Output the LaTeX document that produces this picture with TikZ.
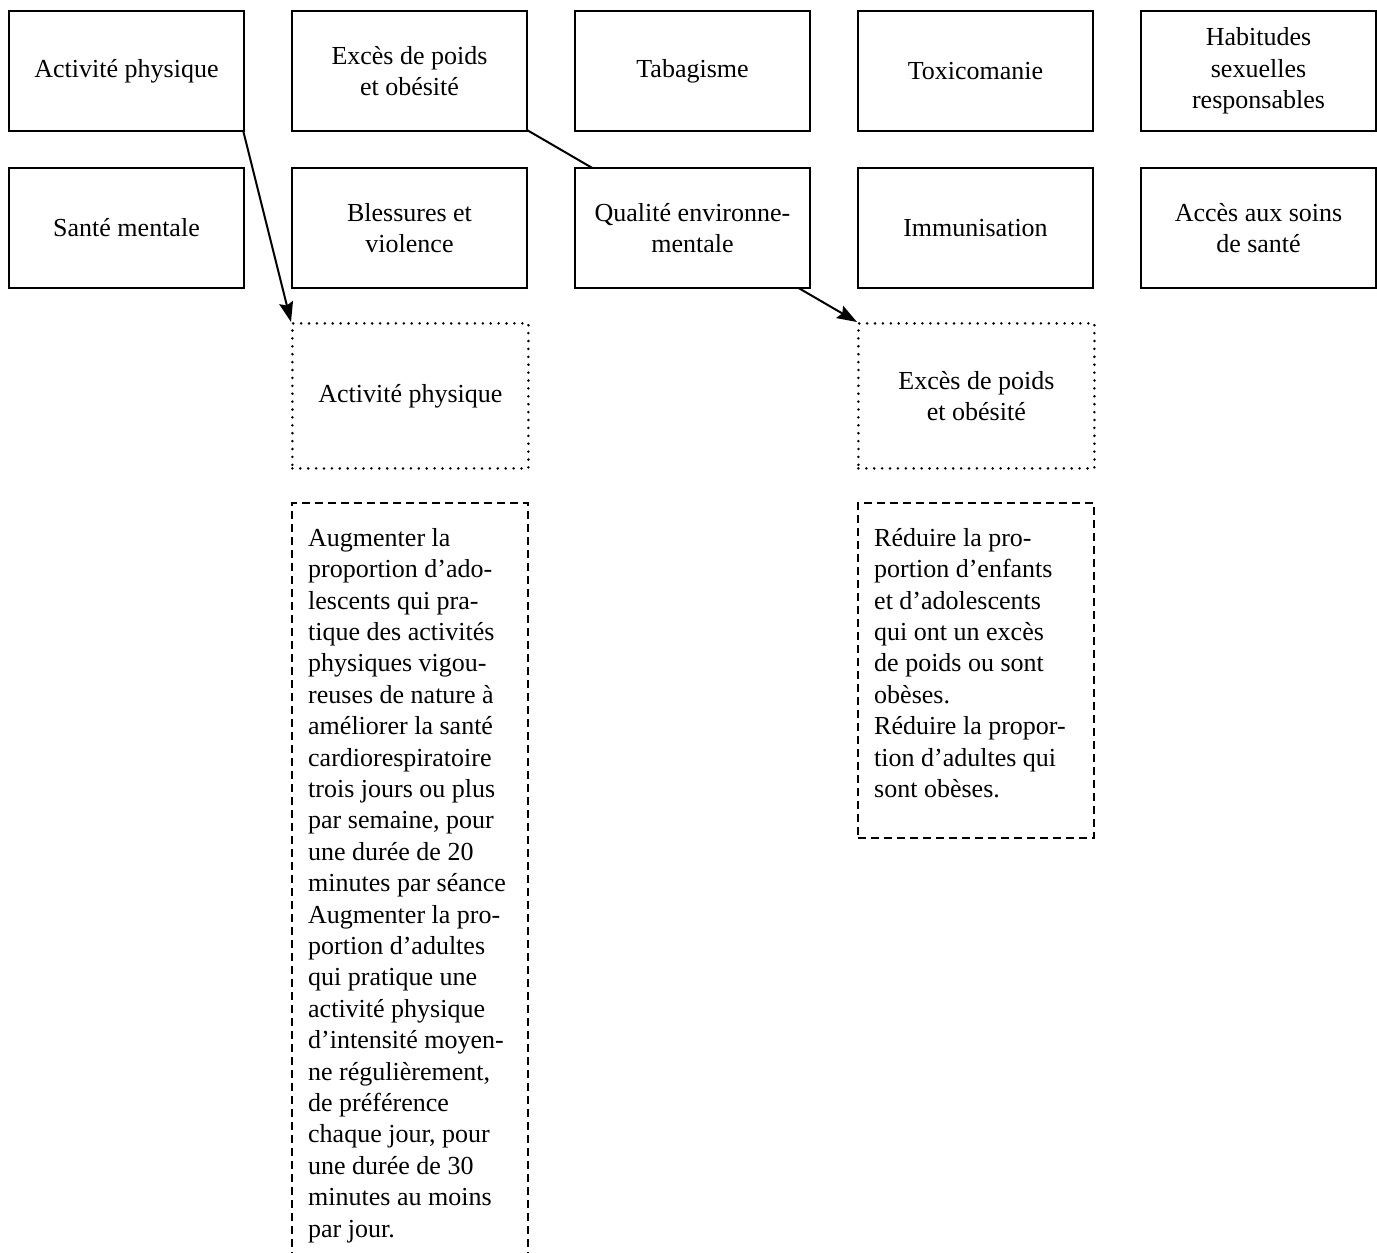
\documentclass[tikz,border=0pt]{standalone}
\usepackage{fontspec}
\setmainfont{Liberation Serif}
\usetikzlibrary{arrows.meta}
\begin{document}
\begin{tikzpicture}[x=1pt,y=-1pt,
  every node/.style={font={\fontsize{26}{31.4}\selectfont}},
  solidbox/.style={draw, line width=2pt, fill=white, minimum width=235pt, minimum height=120pt, inner sep=0pt, align=center, anchor=north west},
  dotbox/.style={draw, line width=2.8pt, line cap=round, dash pattern=on 0pt off 7.9pt, fill=white, minimum width=236pt, minimum height=145pt, inner sep=0pt, align=center, anchor=north west},
  dashbox/.style={draw, line width=2pt, dash pattern=on 8pt off 5pt, minimum width=236pt, inner sep=0pt, anchor=north west},
  objtext/.style={anchor=north west, align=left, inner sep=0pt},
  link/.style={line width=2pt, -{Stealth[length=20pt,width=14pt,inset=3pt]}}
]
\useasboundingbox (0,0) rectangle (1377,1253);
\clip (0,0) rectangle (1377,1253);
% coordinates of connector ends
\coordinate (c1s) at (243,130);
\coordinate (c1e) at (291,322);
\coordinate (c2s) at (527,130);
\coordinate (c2e) at (857,322);
\draw[link] (c1s) -- (c1e);
\draw[link] (c2s) -- (c2e);
% top row
\node[solidbox] (ap) at (8,10) {Activité physique};
\node[solidbox] (ep) at (291,10) {Excès de poids\\et obésité};
\node[solidbox] (tab) at (574,10) {Tabagisme};
\node[solidbox] (tox) at (857,10) {Toxicomanie};
\node[solidbox] (hab) at (1140,10) {Habitudes\\sexuelles\\responsables};
% second row
\node[solidbox] (sm) at (8,167) {Santé mentale};
\node[solidbox] (bv) at (291,167) {Blessures et\\violence};
\node[solidbox] (qe) at (574,167) {Qualité environne-\\mentale};
\node[solidbox] (imm) at (857,167) {Immunisation};
\node[solidbox] (acc) at (1140,167) {Accès aux soins\\de santé};
% dotted boxes
\node[dotbox] (dap) at (291,322) {Activité physique};
\node[dotbox] (dep) at (857,322) {Excès de poids\\et obésité};
% dashed boxes
\node[dashbox, minimum height=820pt] (oap) at (291,502) {};
\node[dashbox, minimum height=335pt] (oep) at (857,502) {};
\node[objtext] (tap) at (308,528) {Augmenter la\\
proportion d’ado-\\
lescents qui pra-\\
tique des activités\\
physiques vigou-\\
reuses de nature à\\
améliorer la santé\\
cardiorespiratoire\\
trois jours ou plus\\
par semaine, pour\\
une durée de 20\\
minutes par séance\\
Augmenter la pro-\\
portion d’adultes\\
qui pratique une\\
activité physique\\
d’intensité moyen-\\
ne régulièrement,\\
de préférence\\
chaque jour, pour\\
une durée de 30\\
minutes au moins\\
par jour.};
\node[objtext] (tep) at (874,528) {Réduire la pro-\\
portion d’enfants\\
et d’adolescents\\
qui ont un excès\\
de poids ou sont\\
obèses.\\
Réduire la propor-\\
tion d’adultes qui\\
sont obèses.};
\end{tikzpicture}
\end{document}
